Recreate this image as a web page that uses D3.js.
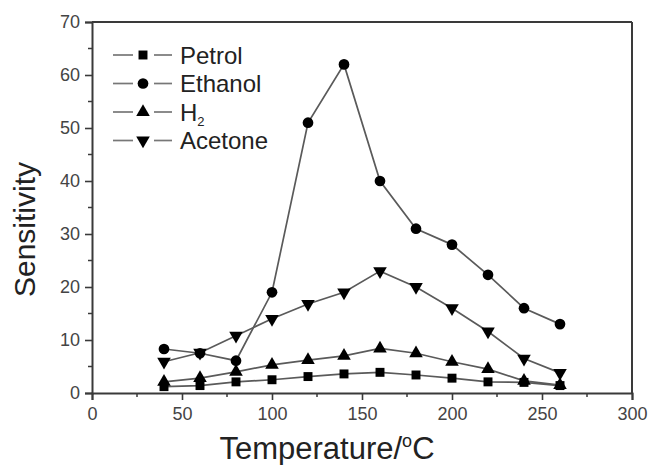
<!DOCTYPE html>
<html>
<head>
<meta charset="utf-8">
<script src="https://cdn.jsdelivr.net/npm/d3@7"></script>
<style>
  body { margin: 0; background: #fff; }
  text { font-family: "Liberation Sans", Arial, sans-serif; }
  .tick_lab { fill: #444; font-size: 18px; }
</style>
</head>
<body>
<div class="viz"></div>
<script>
// data
const temps = [40, 60, 80, 100, 120, 140, 160, 180, 200, 220, 240, 260];
const petrol  = [1.2, 1.4, 2.1, 2.5, 3.1, 3.6, 3.9, 3.4, 2.8, 2.1, 2.0, 1.4];
const ethanol = [8.3, 7.5, 6.1, 19, 51, 62, 40, 31, 28, 22.3, 16, 13];
const h2      = [2.1, 2.8, 4.0, 5.3, 6.2, 7.0, 8.4, 7.5, 5.9, 4.5, 2.3, 1.5];
const acetone = [5.9, 7.6, 10.8, 14, 16.8, 19, 23, 20, 16, 11.6, 6.5, 3.8];
const seriesNames = ["Petrol", "Ethanol", "H2", "Acetone"];
const seriesVals = [petrol, ethanol, h2, acetone];
const xTicks = [0, 50, 100, 150, 200, 250, 300];
const yTicks = [0, 10, 20, 30, 40, 50, 60, 70];

const margin = { top: 22, left: 92, right: 19, bottom: 72 };
const W = 651, H = 465;
const width = W - margin.left - margin.right;
const height = H - margin.top - margin.bottom;

const svg = d3.select(".viz").append("svg")
    .attr("width", W)
    .attr("height", H)
    .append("g")
    .attr("transform", `translate(${margin.left},${margin.top})`);

const x = d3.scaleLinear().domain([0, 300]).range([0, width]);
const y = d3.scaleLinear().domain([0, 70]).range([height, 0]);

const axisCol = "#3a3a3a";

// minor ticks
svg.append("g").selectAll("line")
    .data(d3.range(25, 300, 50))
    .enter().append("line")
    .attr("x1", d => x(d)).attr("x2", d => x(d))
    .attr("y1", height).attr("y2", height + 4)
    .attr("stroke", axisCol).attr("stroke-width", 1.5);
svg.append("g").selectAll("line")
    .data(d3.range(5, 70, 10))
    .enter().append("line")
    .attr("x1", -4).attr("x2", 0)
    .attr("y1", d => y(d)).attr("y2", d => y(d))
    .attr("stroke", axisCol).attr("stroke-width", 1.5);

// axes
const xAxis = svg.append("g")
    .attr("transform", `translate(0,${height})`)
    .call(d3.axisBottom(x).tickValues(xTicks).tickSize(7).tickPadding(7));
const yAxis = svg.append("g")
    .call(d3.axisLeft(y).tickValues(yTicks).tickSize(7).tickPadding(5));

[xAxis, yAxis].forEach(a => {
    a.select(".domain").attr("stroke", axisCol).attr("stroke-width", 2);
    a.selectAll(".tick line").attr("stroke", axisCol).attr("stroke-width", 1.6);
    a.selectAll(".tick text").attr("class", "tick_lab").attr("font-family", null).attr("font-size", null);
});

// frame top + right
svg.append("line").attr("x1", 0).attr("x2", width).attr("y1", 0).attr("y2", 0)
    .attr("stroke", axisCol).attr("stroke-width", 2);
svg.append("line").attr("x1", width).attr("x2", width).attr("y1", 0).attr("y2", height)
    .attr("stroke", axisCol).attr("stroke-width", 2);

// axis titles
svg.append("text")
    .attr("x", 327 - margin.left)
    .attr("y", height + 66)
    .attr("text-anchor", "middle")
    .style("font-size", "31px")
    .style("fill", "#222")
    .html('Temperature/<tspan dy="-12" font-size="18px">o</tspan><tspan dy="12">C</tspan>');

svg.append("text")
    .attr("transform", `translate(${-57},${y(35) + 22}) rotate(-90)`)
    .attr("text-anchor", "middle")
    .style("font-size", "30px")
    .style("fill", "#222")
    .text("Sensitivity");

// markers
const symbols = [
    d3.symbol().type(d3.symbolSquare).size(80),
    d3.symbol().type(d3.symbolCircle).size(90),
    d3.symbol().type(d3.symbolTriangle).size(80),
    d3.symbol().type(d3.symbolTriangle).size(80)
];
const rot = [0, 0, 0, 180];

const line = d3.line()
    .x((d, i) => x(temps[i]))
    .y(d => y(d));

seriesVals.forEach((vals, k) => {
    svg.append("path")
        .datum(vals)
        .attr("d", line)
        .attr("fill", "none")
        .attr("stroke", "#5a5a5a")
        .attr("stroke-width", 1.7);
});
seriesVals.forEach((vals, k) => {
    svg.append("g").selectAll("path")
        .data(vals)
        .enter().append("path")
        .attr("d", symbols[k])
        .attr("transform", (d, i) => `translate(${x(temps[i])},${y(d)}) rotate(${rot[k]})`)
        .attr("fill", "#000");
});

// legend
const leg = svg.append("g").attr("transform", "translate(21,33)");
const legRow = 28.5;
seriesNames.forEach((name, k) => {
    const g = leg.append("g").attr("transform", `translate(0,${k * legRow})`);
    g.append("line").attr("x1", 0).attr("x2", 20).attr("y1", 0).attr("y2", 0)
        .attr("stroke", "#777").attr("stroke-width", 1.7);
    g.append("line").attr("x1", 41).attr("x2", 59).attr("y1", 0).attr("y2", 0)
        .attr("stroke", "#777").attr("stroke-width", 1.7);
    g.append("path").attr("d", symbols[k])
        .attr("transform", `translate(30,0) rotate(${rot[k]})`)
        .attr("fill", "#000");
    const t = g.append("text").attr("x", 67).attr("y", 8.5)
        .style("font-size", "24px").style("fill", "#222");
    if (name === "H2") {
        t.html('H<tspan dy="5" font-size="13px">2</tspan>');
    } else {
        t.text(name);
    }
});
</script>
</body>
</html>
